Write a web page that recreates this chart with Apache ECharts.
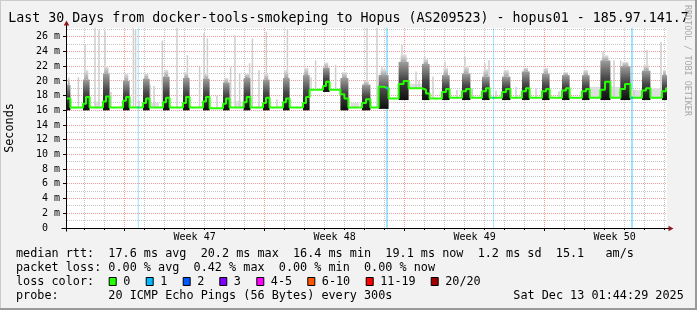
<!DOCTYPE html>
<html><head><meta charset="utf-8">
<script src="https://cdn.jsdelivr.net/npm/echarts@6/dist/echarts.min.js"></script>
<style>html,body{margin:0;padding:0;background:#f2f2f2}#c{width:697px;height:310px}</style>
</head><body><div id="c"></div>
<script>
// ================= DATA =================
const TITLE = 'Last 30 Days from docker-tools-smokeping to Hopus (AS209523) - hopus01 - 185.97.141.7';
const Y_LABEL = 'Seconds';
const WATERMARK = 'RRDTOOL / TOBI OETIKER';
// x = days since the start of the 30 day window
const X_MIN = 0, X_MAX = 30, Y_MIN = 0, Y_MAX = 27.2;
const yMajor = [2, 4, 6, 8, 10, 12, 14, 16, 18, 20, 22, 24, 26];
const yMinor = [1, 3, 5, 7, 9, 11, 13, 15, 17, 19, 21, 23, 25, 27];
const dayLines = [0.88, 1.88, 3.88, 4.88, 5.88, 6.88, 7.88, 8.88, 10.88, 11.88, 12.88, 13.88, 14.88, 15.88,
  17.88, 18.88, 19.88, 20.88, 21.88, 22.88, 24.88, 25.88, 26.88, 27.88, 28.88, 29.88];
const weekLines = [2.88, 9.88, 16.88, 23.88];
const weekCenters = [6.38, 13.38, 20.38, 27.38];
const weekLabels = ['Week 47', 'Week 48', 'Week 49', 'Week 50'];

// median rtt (ms), step line: [day, value]
const median = [
  [0, 17.6], [0.17, 16.4],
  [0.8, 16.9], [0.95, 17.8], [1.13, 16.4],
  [1.8, 17.2], [1.95, 17.9], [2.13, 16.4],
  [2.8, 17.3], [2.95, 17.8], [3.13, 16.4],
  [3.8, 17.0], [3.95, 17.6], [4.13, 16.4],
  [4.8, 17.1], [4.95, 17.7], [5.13, 16.4],
  [5.8, 17.0], [5.95, 17.8], [6.13, 16.4],
  [6.8, 17.2], [6.95, 17.8], [7.13, 16.3],
  [7.8, 16.9], [7.95, 17.6], [8.13, 16.4],
  [8.83, 17.1], [8.98, 17.8], [9.17, 16.4],
  [9.8, 17.0], [9.95, 17.7], [10.13, 16.4],
  [10.8, 17.1], [10.95, 17.6], [11.13, 16.4],
  [11.8, 17.0], [11.95, 17.8], [12.13, 18.8],
  [12.8, 19.3], [12.95, 19.9], [13.13, 18.8],
  [13.67, 18.2], [13.87, 17.6], [14.07, 16.4],
  [14.75, 17.0], [14.95, 17.5], [15.17, 16.4],
  [15.58, 19.2], [15.85, 19.0], [16.08, 17.6],
  [16.58, 19.6], [16.83, 20.0], [17.08, 19.0],
  [17.75, 18.8], [17.95, 18.3], [18.13, 17.6],
  [18.75, 18.5], [18.95, 18.9], [19.13, 17.7],
  [19.75, 18.6], [19.95, 18.9], [20.17, 17.7],
  [20.75, 18.6], [20.95, 19.0], [21.13, 17.7],
  [21.75, 18.5], [21.95, 18.9], [22.17, 17.7],
  [22.75, 18.6], [22.95, 19.0], [23.13, 17.7],
  [23.75, 18.6], [23.95, 18.9], [24.13, 17.7],
  [24.75, 18.7], [24.95, 19.0], [25.13, 17.7],
  [25.75, 18.6], [25.95, 18.9], [26.13, 17.7],
  [26.67, 18.8], [26.9, 19.9], [27.17, 17.7],
  [27.67, 18.9], [27.9, 19.6], [28.17, 17.7],
  [28.75, 18.7], [28.95, 19.0], [29.17, 17.7],
  [29.75, 18.6], [29.95, 19.0], [30, 19.0]
];

// daily bursts of smoke: [start, end, low, darkTop, fadeTop]
const bursts = [
  [0, 0.17, 16.0, 19.5, 20.5], [0.8, 1.13, 16.0, 20.2, 21.5], [1.8, 2.13, 16.0, 21.0, 22.0],
  [2.8, 3.13, 16.0, 20.0, 21.0], [3.8, 4.13, 16.0, 20.3, 21.0], [4.8, 5.13, 16.0, 20.6, 21.5],
  [5.8, 6.13, 16.0, 20.4, 21.2], [6.8, 7.13, 16.0, 20.3, 21.0], [7.8, 8.13, 16.0, 19.8, 20.4],
  [8.83, 9.17, 16.0, 20.4, 21.0], [9.8, 10.13, 16.0, 20.2, 21.0], [10.8, 11.13, 16.0, 20.4, 21.5],
  [11.8, 12.13, 16.0, 20.8, 21.8], [12.8, 13.13, 18.5, 21.8, 22.5], [13.67, 14.07, 16.0, 20.4, 21.2],
  [14.75, 15.17, 16.0, 19.5, 20.0], [15.58, 16.08, 16.2, 20.8, 21.6], [16.58, 17.08, 17.4, 22.6, 23.6],
  [17.75, 18.13, 17.4, 22.3, 23.0], [18.75, 19.13, 17.4, 20.8, 21.8], [19.75, 20.17, 17.4, 21.0, 22.0],
  [20.75, 21.13, 17.4, 20.6, 21.6], [21.75, 22.17, 17.4, 20.6, 21.5], [22.75, 23.13, 17.4, 21.3, 21.8],
  [23.75, 24.13, 17.4, 21.0, 21.8], [24.75, 25.13, 17.4, 20.8, 21.2], [25.75, 26.13, 17.4, 20.8, 21.5],
  [26.67, 27.17, 17.4, 22.8, 23.5], [27.67, 28.17, 17.4, 22.0, 22.6], [28.75, 29.17, 17.4, 21.4, 22.2],
  [29.75, 30.0, 17.4, 20.8, 21.5]
];

// isolated max-ping spikes: [day, base, top]
const spikes = [
  [0.57, 16.4, 20.5], [0.9, 16.4, 25.0], [1.4, 16.4, 27.2], [1.6, 16.4, 27.0], [1.9, 16.4, 26.8],
  [2.03, 16.4, 21.7], [2.2, 16.4, 18.5], [3.32, 16.4, 27.2], [3.43, 16.4, 27.0], [3.6, 16.4, 17.3],
  [4.15, 16.4, 19.5], [4.35, 16.4, 19.3], [4.77, 16.4, 25.5], [5.5, 16.4, 27.2], [6.02, 16.4, 23.5],
  [6.63, 16.4, 21.9], [6.85, 16.4, 26.5], [7.02, 16.4, 25.8], [7.5, 16.4, 18.0], [8.18, 16.4, 21.9],
  [8.4, 16.4, 26.2], [8.63, 16.4, 21.0], [9.13, 16.4, 22.4], [9.27, 16.4, 25.8], [9.6, 16.4, 21.5],
  [9.97, 16.4, 26.7], [10.5, 16.4, 17.5], [11.02, 16.4, 27.0], [12.2, 18.8, 20.5], [12.43, 18.8, 22.8],
  [13.43, 18.8, 22.2], [13.93, 16.4, 20.1],
  [15.0, 16.4, 27.2], [15.5, 16.4, 27.2], [15.75, 16.4, 21.9], [16.75, 17.4, 24.9], [16.98, 17.4, 22.6],
  [17.45, 19.0, 21.3], [17.6, 19.0, 20.0], [17.9, 17.4, 23.3], [18.3, 17.6, 20.6], [18.9, 17.4, 22.6],
  [19.5, 17.6, 18.8], [19.9, 17.4, 23.3], [20.27, 17.6, 19.0], [20.9, 17.4, 22.4],
  [21.1, 17.6, 22.8], [21.45, 17.6, 18.7], [22.45, 17.6, 19.2], [23.45, 17.6, 19.0], [24.6, 17.6, 18.6],
  [26.8, 17.6, 24.0], [27.35, 17.6, 22.8], [27.68, 17.6, 22.8], [28.35, 17.6, 18.8], [29.0, 17.6, 24.2],
  [29.7, 17.6, 25.3]
];

// low light-grey smoke between bursts: [start, end, low, high]
const lightBlocks = [
  [1.35, 1.65, 16.4, 17.2], [4.2, 4.6, 16.4, 17.0], [8.4, 8.7, 16.4, 17.3], [14.2, 14.6, 16.4, 17.0],
  [17.08, 17.75, 19.0, 19.6], [26.13, 26.67, 17.6, 19.2], [27.17, 27.67, 17.6, 19.2],
  [28.17, 28.75, 17.6, 18.8], [29.17, 29.75, 17.6, 19.0]
];

// packet loss events (1/20): [day, duration, median at that time]
const lossEvents = [[3.565, 0.05, 16.4], [16.0, 0.1, 19.0], [21.33, 0.05, 17.7], [28.25, 0.1, 17.7]];

const lossColors = ['#26ff00', '#00b8ff', '#0059ff', '#7e00ff', '#ff00ff', '#ff5500', '#ff0000', '#a10000'];
const lossLabels = ['0', '1', '2', '3', '4-5', '6-10', '11-19', '20/20'];
const lossBoxX = [108.7, 145.7, 182.7, 219.3, 256.3, 307.3, 365.7, 430.7];

const statsLines = [
  'median rtt:  17.6 ms avg  20.2 ms max  16.4 ms min  19.1 ms now  1.2 ms sd  15.1   am/s',
  'packet loss: 0.00 % avg  0.42 % max  0.00 % min  0.00 % now',
  'loss color:',
  'probe:       20 ICMP Echo Pings (56 Bytes) every 300s'
];
const dateText = 'Sat Dec 13 01:44:29 2025';

// ================= STYLE =================
const MONO = '"DejaVu Sans Mono", monospace';
const GRID_GREY = '#c4c4c4';
const GRID_RED = '#f09a9a';
const ARROW = '#8a1a1a';

const chart = echarts.init(document.getElementById('c'), null, {renderer: 'canvas', width: 697, height: 310});

const px = v => Math.floor(v) + 0.5;

function rectBetween(api, t0, t1, lo, hi, style, minW) {
  const a = api.coord([t0, hi]);
  const b = api.coord([t1, lo]);
  let w = b[0] - a[0];
  let x = a[0];
  if (minW && w < minW) { x = (a[0] + b[0]) / 2 - minW / 2; w = minW; }
  return {type: 'rect', shape: {x: x, y: a[1], width: w, height: b[1] - a[1]}, style: style};
}

const series = [];

// vertical grid (day + week lines) and x ticks
series.push({
  type: 'custom', z: 1, clip: false, silent: true,
  data: dayLines.map(d => [d, 0]).concat(weekLines.map(d => [d, 1])),
  renderItem(params, api) {
    const t = api.value(0), wk = api.value(1);
    const top = api.coord([t, Y_MAX]), bot = api.coord([t, Y_MIN]);
    const x = px(top[0]);
    return {type: 'group', children: [
      {type: 'line', shape: {x1: x, y1: top[1], x2: x, y2: bot[1]},
       style: {stroke: wk ? GRID_RED : GRID_GREY, lineWidth: 1, lineDash: [1, 1]}},
      {type: 'line', shape: {x1: x, y1: bot[1], x2: x, y2: bot[1] + (wk ? 3 : 2)},
       style: {stroke: '#000', lineWidth: 1}}
    ]};
  }
});
// horizontal grid
series.push({
  type: 'custom', z: 1, clip: false, silent: true,
  data: yMajor.map(v => [0, v, 1]).concat(yMinor.map(v => [0, v, 0])),
  renderItem(params, api) {
    const v = api.value(1), mj = api.value(2);
    const l = api.coord([X_MIN, v]), r = api.coord([X_MAX, v]);
    const y = px(l[1]);
    const ch = [{type: 'line', shape: {x1: l[0], y1: y, x2: r[0], y2: y},
      style: {stroke: mj ? GRID_RED : GRID_GREY, lineWidth: 1, lineDash: [1, 1]}}];
    if (mj) ch.push({type: 'line', shape: {x1: l[0] - 4, y1: y, x2: l[0], y2: y}, style: {stroke: '#000', lineWidth: 1}});
    return {type: 'group', children: ch};
  }
});
// loss bars
series.push({
  type: 'custom', z: 2, clip: true, silent: true,
  data: lossEvents,
  renderItem(params, api) {
    const t = api.value(0), w = api.value(1);
    return rectBetween(api, t - w / 2, t + w / 2, Y_MIN, Y_MAX, {fill: 'rgba(0,184,255,0.38)'}, 1);
  }
});
// light smoke blocks
series.push({
  type: 'custom', z: 3, clip: true, silent: true,
  data: lightBlocks,
  renderItem(params, api) {
    return rectBetween(api, api.value(0), api.value(1), api.value(2), api.value(3), {fill: '#dedede'});
  }
});
// spikes
series.push({
  type: 'custom', z: 3, clip: true, silent: true,
  data: spikes,
  renderItem(params, api) {
    const t = api.value(0);
    return rectBetween(api, t - 0.03, t + 0.03, api.value(1), api.value(2), {fill: '#cecece'}, 1.5);
  }
});
// bursts: dark smoke, fading and narrowing upward
series.push({
  type: 'custom', z: 4, clip: true, silent: true,
  data: bursts,
  renderItem(params, api) {
    const t0 = api.value(0), t1 = api.value(1), lo = api.value(2), dk = api.value(3), ft = api.value(4);
    const lower = new echarts.graphic.LinearGradient(0, 0, 0, 1, [
      {offset: 0, color: '#9e9e9e'}, {offset: 0.45, color: '#474747'}, {offset: 1, color: '#0e0e0e'}]);
    const upper = new echarts.graphic.LinearGradient(0, 0, 0, 1, [
      {offset: 0, color: '#e2e2e2'}, {offset: 1, color: '#a4a4a4'}]);
    const pad = (t1 - t0) * 0.2;
    return {type: 'group', children: [
      rectBetween(api, t0 + pad, t1 - pad, dk, ft, {fill: upper}),
      rectBetween(api, t0, t1, lo, dk, {fill: lower})
    ]};
  }
});
// median line
series.push({
  type: 'line', z: 5, data: median, step: 'end', showSymbol: false, symbol: 'none',
  lineStyle: {color: lossColors[0], width: 2}, clip: true, silent: true, animation: false
});
// loss-coloured median pieces
series.push({
  type: 'custom', z: 6, clip: true, silent: true,
  data: lossEvents,
  renderItem(params, api) {
    const t = api.value(0), w = api.value(1), m = api.value(2);
    const c = api.coord([t, m]);
    const a = api.coord([t - w / 2, m]), b = api.coord([t + w / 2, m]);
    const wd = Math.max(1.5, b[0] - a[0]);
    return {type: 'rect', shape: {x: c[0] - wd / 2, y: c[1] - 1, width: wd, height: 2}, style: {fill: lossColors[1]}};
  }
});
// axes + arrows
series.push({
  type: 'custom', z: 7, clip: false, silent: true,
  data: [[X_MIN, Y_MIN]],
  renderItem(params, api) {
    const o = api.coord([X_MIN, Y_MIN]), tr = api.coord([X_MAX, Y_MAX]);
    const ax = Math.floor(o[0]) - 0.5, ay = px(o[1]);
    return {type: 'group', children: [
      {type: 'line', shape: {x1: ax, y1: ay + 3, x2: ax, y2: tr[1] - 3}, style: {stroke: '#000', lineWidth: 1}},
      {type: 'line', shape: {x1: ax - 5, y1: ay, x2: tr[0] + 2, y2: ay}, style: {stroke: '#000', lineWidth: 1}},
      {type: 'polygon', shape: {points: [[ax - 2.8, tr[1] - 2.5], [ax + 2.8, tr[1] - 2.5], [ax, tr[1] - 7.5]]}, style: {fill: ARROW}},
      {type: 'polygon', shape: {points: [[tr[0] + 1.5, ay - 2.8], [tr[0] + 1.5, ay + 2.8], [tr[0] + 6.5, ay]]}, style: {fill: ARROW}}
    ]};
  }
});
// week labels
series.push({
  type: 'custom', z: 7, clip: false, silent: true,
  data: weekCenters.map(c => [c, Y_MIN]),
  renderItem(params, api) {
    const p = api.coord([api.value(0), Y_MIN]);
    return {type: 'text', x: p[0], y: p[1] + 9.5,
      style: {text: weekLabels[params.dataIndex], font: '10px ' + MONO, fill: '#000', align: 'center', verticalAlign: 'middle'}};
  }
});

// legend / text graphics
const graphics = [
  {type: 'rect', shape: {x: 0, y: 0, width: 697, height: 1}, style: {fill: '#cbcbcb'}, silent: true},
  {type: 'rect', shape: {x: 0, y: 0, width: 1, height: 310}, style: {fill: '#cbcbcb'}, silent: true},
  {type: 'rect', shape: {x: 0, y: 308, width: 697, height: 2}, style: {fill: '#999999'}, silent: true},
  {type: 'rect', shape: {x: 695, y: 0, width: 2, height: 310}, style: {fill: '#999999'}, silent: true},
  {type: 'text', x: 348.5, y: 18.5, style: {text: TITLE, font: '13.3px ' + MONO, fill: '#000', align: 'center', verticalAlign: 'middle'}},
  {type: 'text', x: 10, y: 128, rotation: Math.PI / 2, style: {text: Y_LABEL, font: '11.8px ' + MONO, fill: '#000', align: 'center', verticalAlign: 'middle'}},
  {type: 'text', x: 687.5, y: 5, rotation: -Math.PI / 2, style: {text: WATERMARK, font: '8.4px ' + MONO, fill: '#a8a8a8', align: 'left', verticalAlign: 'middle'}},
  {type: 'text', x: 513.3, y: 296, style: {text: dateText, font: '11.8px ' + MONO, fill: '#000', align: 'left', verticalAlign: 'middle'}}
];
const lineY = [254, 268, 282, 296];
statsLines.forEach((s, i) => graphics.push({type: 'text', x: 16, y: lineY[i],
  style: {text: s, font: '11.8px ' + MONO, fill: '#000', align: 'left', verticalAlign: 'middle'}}));
lossColors.forEach((c, i) => {
  graphics.push({type: 'rect', shape: {x: lossBoxX[i] + 0.5, y: 277.5, width: 7, height: 8}, style: {fill: c, stroke: '#000', lineWidth: 1}});
  graphics.push({type: 'text', x: lossBoxX[i] + 14.5, y: 282, style: {text: lossLabels[i], font: '11.8px ' + MONO, fill: '#000', align: 'left', verticalAlign: 'middle'}});
});

chart.setOption({
  animation: false,
  backgroundColor: '#f2f2f2',
  grid: {left: 67, top: 28, width: 600, height: 200, show: true, backgroundColor: '#ffffff', borderWidth: 0},
  xAxis: {type: 'value', min: X_MIN, max: X_MAX, show: false},
  yAxis: {type: 'value', min: Y_MIN, max: Y_MAX, interval: 2,
    axisLine: {show: false}, axisTick: {show: false}, splitLine: {show: false},
    axisLabel: {fontFamily: MONO, fontSize: 10, color: '#000', margin: 7,
      formatter: v => (Math.abs(v % 2) < 1e-9 ? (v === 0 ? '0  ' : v + ' m') : '')}},
  series: series,
  graphic: graphics
});
</script></body></html>
